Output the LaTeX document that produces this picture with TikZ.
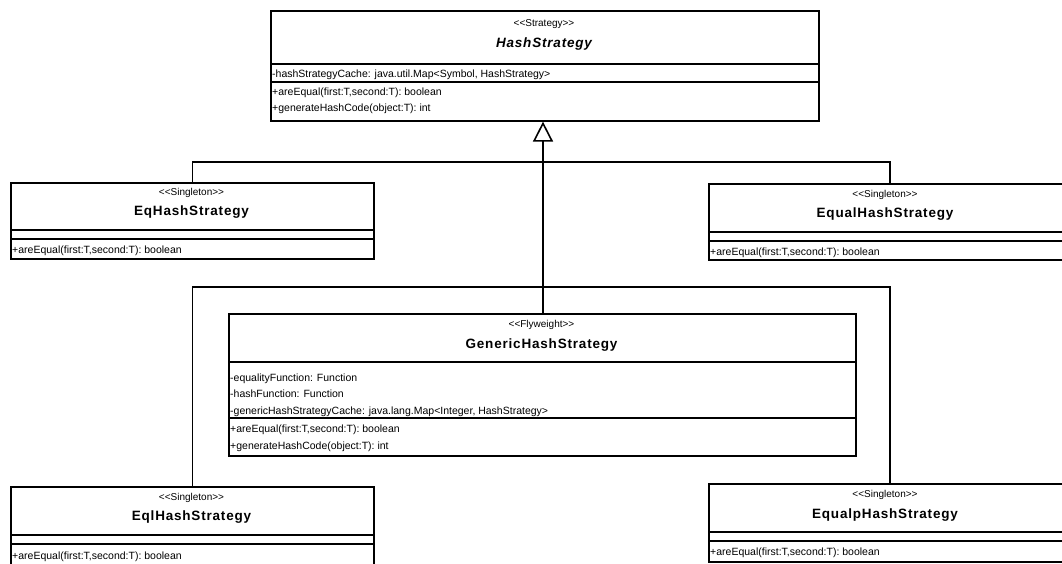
\documentclass[tikz,border=0pt]{standalone}
\usepackage{fontspec}
\newfontfamily\uifont{Liberation Sans}
\newfontfamily\namefont[LetterSpace=6]{Liberation Sans}
\usetikzlibrary{arrows.meta}
\tikzset{
  classbox/.style={draw, line width=1.6pt, fill=white, inner sep=0pt, anchor=north west},
  sepline/.style={line width=1.6pt},
  conn/.style={line width=1.6pt},
  stereo/.style={font=\uifont\fontsize{10}{11}\selectfont, inner sep=0pt},
  cname/.style={font=\namefont\bfseries\fontsize{13.5}{14}\selectfont, inner sep=0pt},
  member/.style={font=\uifont\fontsize{10.5}{12}\selectfont, inner sep=0pt, anchor=base west},
}
\begin{document}
\begin{tikzpicture}[x=1pt,y=-1pt]
\useasboundingbox (0,0) rectangle (1062,563);
\clip (0,0) rectangle (1062,563);
\fill[white] (0,0) rectangle (1062,563);

% HashStrategy
\node[classbox, minimum width=548pt, minimum height=110pt] (hs) at (270,10) {};
\draw[sepline] (270,64) -- (818,64);
\draw[sepline] (270,82) -- (818,82);
\node[stereo] (hsst) at (544,24) {<<Strategy>>};
\node[cname, font=\namefont\bfseries\itshape\fontsize{13.5}{14}\selectfont] (hsnm) at (544,44) {HashStrategy};
\node[member] (hsa1) at (272,77) {-hashStrategyCache: java.util.Map<Symbol, HashStrategy>};
\node[member] (hsm1) at (272,95) {+areEqual(first:T,second:T): boolean};
\node[member] (hsm2) at (272,111) {+generateHashCode(object:T): int};

% EqHashStrategy
\node[classbox, minimum width=363pt, minimum height=76pt] (eq) at (10,182) {};
\draw[sepline] (10,230) -- (373,230);
\draw[sepline] (10,239) -- (373,239);
\node[stereo] (eqst) at (191.5,193) {<<Singleton>>};
\node[cname] (eqnm) at (191.5,212) {EqHashStrategy};
\node[member] (eqm1) at (12,253) {+areEqual(first:T,second:T): boolean};

% EqualHashStrategy
\node[classbox, minimum width=362pt, minimum height=76pt] (equal) at (708,183) {};
\draw[sepline] (708,232) -- (1070,232);
\draw[sepline] (708,241) -- (1070,241);
\node[stereo] (equalst) at (885,195) {<<Singleton>>};
\node[cname] (equalnm) at (885,214) {EqualHashStrategy};
\node[member] (equalm1) at (710,255) {+areEqual(first:T,second:T): boolean};

% GenericHashStrategy
\node[classbox, minimum width=627pt, minimum height=142pt] (gen) at (228,313) {};
\draw[sepline] (228,362) -- (855,362);
\draw[sepline] (228,418) -- (855,418);
\node[stereo] (genst) at (541.5,325) {<<Flyweight>>};
\node[cname] (gennm) at (541.5,345) {GenericHashStrategy};
\node[member] (gena1) at (230,381) {-equalityFunction: Function};
\node[member] (gena2) at (230,397) {-hashFunction: Function};
\node[member] (gena3) at (230,414) {-genericHashStrategyCache: java.lang.Map<Integer, HashStrategy>};
\node[member] (genm1) at (230,432) {+areEqual(first:T,second:T): boolean};
\node[member] (genm2) at (230,449) {+generateHashCode(object:T): int};

% EqlHashStrategy
\node[classbox, minimum width=363pt, minimum height=84pt] (eql) at (10,486) {};
\draw[sepline] (10,535) -- (373,535);
\draw[sepline] (10,544) -- (373,544);
\node[stereo] (eqlst) at (191.5,498) {<<Singleton>>};
\node[cname] (eqlnm) at (191.5,517) {EqlHashStrategy};
\node[member] (eqlm1) at (12,559) {+areEqual(first:T,second:T): boolean};

% EqualpHashStrategy
\node[classbox, minimum width=362pt, minimum height=78pt] (equalp) at (708,483) {};
\draw[sepline] (708,532) -- (1070,532);
\draw[sepline] (708,541) -- (1070,541);
\node[stereo] (equalpst) at (885,495) {<<Singleton>>};
\node[cname] (equalpnm) at (885,515) {EqualpHashStrategy};
\node[member] (equalpm1) at (710,555) {+areEqual(first:T,second:T): boolean};

% generalization
\coordinate (j1) at (543,162);
\coordinate (j2) at (543,287);
\draw[conn, -{Triangle[open, length=20pt, width=20pt, line width=1.6pt]}] (gen.north -| j1) -- (hs.south -| j1);
\draw[conn] (eq.north) -- (eq.north |- j1) -- (equal.north |- j1) -- (equal.north);
\draw[conn] (eql.north) -- (eql.north |- j2) -- (equalp.north |- j2) -- (equalp.north);
\end{tikzpicture}
\end{document}
